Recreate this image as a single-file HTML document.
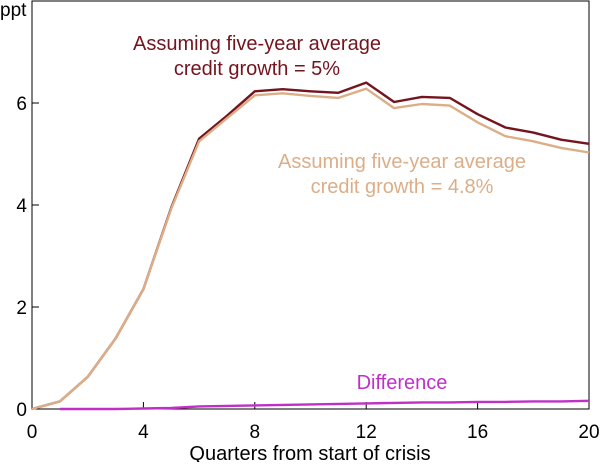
<!DOCTYPE html>
<html><head><meta charset="utf-8"><style>
body{margin:0;background:#fff}
text{font-family:"Liberation Sans",Arial,sans-serif}
</style></head><body>
<svg id="chart" width="600" height="462" xmlns="http://www.w3.org/2000/svg"></svg>
<script>
const quarters=[0,1,2,3,4,5,6,7,8,9,10,11,12,13,14,15,16,17,18,19,20];
const series5=[0,0.15,0.63,1.38,2.35,3.95,5.3,5.75,6.23,6.27,6.23,6.2,6.4,6.02,6.12,6.1,5.78,5.52,5.42,5.28,5.2];
const series48=[0,0.15,0.63,1.38,2.35,3.93,5.25,5.7,6.15,6.19,6.14,6.1,6.28,5.9,5.98,5.95,5.62,5.35,5.25,5.12,5.03];
const diffQuarters=[1,2,3,4,5,6,7,8,9,10,11,12,13,14,15,16,17,18,19,20];
const diffValues=[0,0,0,0.01,0.02,0.05,0.06,0.07,0.08,0.09,0.1,0.11,0.12,0.13,0.13,0.14,0.14,0.15,0.15,0.16];
const xTicks=[0,4,8,12,16,20];
const yTicks=[0,2,4,6];

const svg=document.getElementById('chart');
const NS='http://www.w3.org/2000/svg';
const L=32,R=589,T=1,B=409;
const xs=v=>L+(v/20)*(R-L);
const ys=v=>B-(v/8)*(B-T);
function mk(tag,attrs,txt){const e=document.createElementNS(NS,tag);for(const k in attrs)e.setAttribute(k,attrs[k]);if(txt!==undefined)e.textContent=txt;svg.appendChild(e);return e;}

const frame=mk('rect',{x:L,y:T,width:R-L,height:B-T,fill:'none',stroke:'#000','stroke-width':1});



xTicks.forEach(t=>{
  const l=mk('line',{x1:xs(t),x2:xs(t),y1:B,y2:B-7,stroke:'#000'});
  
  
  const tx=mk('text',{x:xs(t),y:438,'font-size':19,'text-anchor':'middle'},String(t));
  
  
});
yTicks.forEach(t=>{
  const l=mk('line',{x1:L,x2:L+7,y1:ys(t),y2:ys(t),stroke:'#000'});
  
  
  const tx=mk('text',{x:27,y:ys(t)+7,'font-size':19,'text-anchor':'end'},String(t));
  
  
});

function line(xv,yv,color,name){
  const d=xv.map((x,i)=>(i?'L':'M')+xs(x).toFixed(1)+','+ys(yv[i]).toFixed(1)).join(' ');
  const p=mk('path',{d:d,fill:'none',stroke:color,'stroke-width':2.4,'stroke-linejoin':'round'});
  
  
}
line(quarters,series5,'#74141e','line-credit-growth-5');
line(quarters,series48,'#dcae88','line-credit-growth-4-8');
line(diffQuarters,diffValues,'#c030c8','line-difference');

function label(lines,x,y,color,name){
  lines.forEach((s,i)=>{
    const t=mk('text',{x:x,y:y+i*25,'font-size':20,'text-anchor':'middle',fill:color},s);
    
    
  });
}
label(['Assuming five-year average','credit growth = 5%'],257,50,'#74141e','label-credit-growth-5');
label(['Assuming five-year average','credit growth = 4.8%'],402,168,'#dcae88','label-credit-growth-4-8');
label(['Difference'],402,389,'#c030c8','label-difference');

const yu=mk('text',{x:0,y:16,'font-size':19},'ppt');


const xt=mk('text',{x:310,y:460,'font-size':20,'text-anchor':'middle'},'Quarters from start of crisis');


</script>
</body></html>
